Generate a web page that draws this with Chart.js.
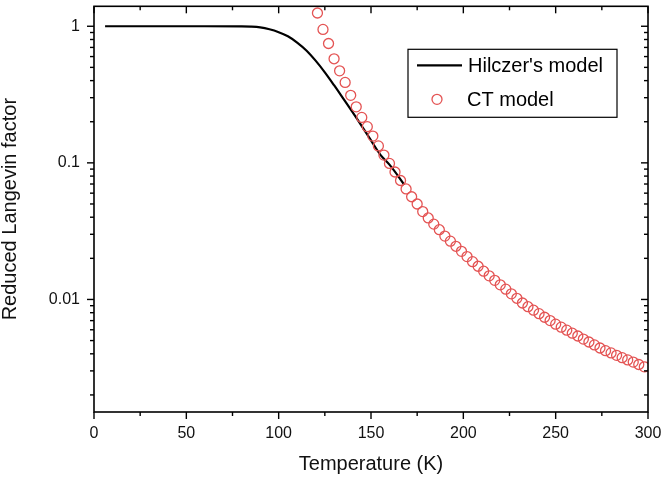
<!DOCTYPE html>
<html>
<head>
<meta charset="utf-8">
<script src="https://cdn.jsdelivr.net/npm/chart.js@4.4.0/dist/chart.umd.min.js"></script>
<style>
  html, body { margin: 0; padding: 0; background: #fff; }
  #wrap { width: 666px; height: 482px; }
</style>
</head>
<body>
<div id="wrap"><canvas id="chart" width="666" height="482"></canvas></div>
<script>
// Hilczer's model (solid black line)
var hilczerT = [6, 20, 40, 60, 80, 85, 90, 95, 100, 105, 110, 115, 120, 125, 130, 135, 140, 145, 150, 155, 160, 165, 168];
var hilczerVal = [1, 1, 1, 1, 0.998, 0.993, 0.98, 0.95, 0.905, 0.845, 0.76, 0.665, 0.56, 0.46, 0.37, 0.295, 0.235, 0.186, 0.146, 0.115, 0.097, 0.079, 0.069];

// CT model (open red circles)
var ctT = [121, 124, 127, 130, 133, 136, 139, 142, 145, 148, 151, 154, 157, 160, 163, 166, 169, 172, 175, 178,
           181, 184, 187, 190, 193, 196, 199, 202, 205, 208, 211, 214, 217, 220, 223, 226, 229, 232, 235, 238,
           241, 244, 247, 250, 253, 256, 259, 262, 265, 268, 271, 274, 277, 280, 283, 286, 289, 292, 295, 298];
var ctVal = [1.25, 0.948, 0.748, 0.578, 0.472, 0.388, 0.312, 0.257, 0.215, 0.184, 0.157, 0.133, 0.114, 0.0991, 0.0857, 0.0743, 0.0644, 0.0565, 0.0500, 0.0440,
             0.0395, 0.0356, 0.0324, 0.0291, 0.0267, 0.0245, 0.0225, 0.0206, 0.0189, 0.0175, 0.0161, 0.0149, 0.0138, 0.0128, 0.0119, 0.0110, 0.0102, 0.00942, 0.00885, 0.00834,
             0.00787, 0.00741, 0.00700, 0.00659, 0.00627, 0.00596, 0.00566, 0.00540, 0.00513, 0.00488, 0.00465, 0.00441, 0.00422, 0.00406, 0.00390, 0.00375, 0.00361, 0.00348, 0.00334, 0.00321];

// axes
var xMin = 0, xMax = 300;
var xMajorTicks = [0, 50, 100, 150, 200, 250, 300];
var xMinorTicks = [25, 75, 125, 175, 225, 275];
var yMin = 0.0015, yMax = 1.4;
var yMajorTicks = [0.01, 0.1, 1];
var yMinorMantissa = [2, 3, 4, 5, 6, 7, 8, 9];
var yDecades = [0.001, 0.01, 0.1];

var FONT = "'Liberation Sans', Arial, sans-serif";

function toPoints(xs, ys) {
    var pts = [];
    for (var i = 0; i < xs.length; i++) pts.push({ x: xs[i], y: ys[i] });
    return pts;
}

// frame box + tick marks on all four sides like the original plot
var frameTicks = {
    id: 'frameTicks',
    afterDraw: function(chart) {
        var ctx = chart.ctx, a = chart.chartArea;
        var xs = chart.scales.x, ys = chart.scales.y;
        var majLen = 7, minLen = 4;
        ctx.save();
        ctx.strokeStyle = '#000';
        ctx.lineWidth = 1.6;
        ctx.strokeRect(a.left, a.top, a.right - a.left, a.bottom - a.top);
        ctx.lineWidth = 1.4;
        function seg(x1, y1, x2, y2) {
            ctx.beginPath(); ctx.moveTo(x1, y1); ctx.lineTo(x2, y2); ctx.stroke();
        }
        function xTick(v, len) {
            var px = xs.getPixelForValue(v);
            seg(px, a.bottom, px, a.bottom + len);
            seg(px, a.top, px, a.top + len);
        }
        function yTick(v, len) {
            var py = ys.getPixelForValue(v);
            seg(a.left - len, py, a.left, py);
            seg(a.right - len, py, a.right, py);
        }
        xMajorTicks.forEach(function(v) { xTick(v, majLen); });
        xMinorTicks.forEach(function(v) { xTick(v, minLen); });
        yMajorTicks.forEach(function(v) { yTick(v, majLen); });
        yDecades.forEach(function(d) {
            yMinorMantissa.forEach(function(m) {
                var v = m * d;
                if (v >= yMin && v <= yMax) yTick(v, minLen);
            });
        });
        ctx.restore();
    }
};

// boxed legend inside the plot, top right
var boxLegend = {
    id: 'boxLegend',
    afterDraw: function(chart) {
        var ctx = chart.ctx, a = chart.chartArea;
        var ds = chart.data.datasets;
        var w = 209, h = 68;
        var left = a.right - 31 - w, top = a.top + 43;
        ctx.save();
        ctx.fillStyle = '#fff';
        ctx.fillRect(left, top, w, h);
        ctx.strokeStyle = '#000';
        ctx.lineWidth = 1.2;
        ctx.strokeRect(left, top, w, h);

        var row1 = top + 16, row2 = top + 50;
        ctx.strokeStyle = ds[0].borderColor;
        ctx.lineWidth = 2.2;
        ctx.beginPath(); ctx.moveTo(left + 9, row1); ctx.lineTo(left + 54, row1); ctx.stroke();

        ctx.strokeStyle = ds[1].borderColor;
        ctx.lineWidth = ds[1].borderWidth;
        ctx.beginPath(); ctx.arc(left + 29, row2, ds[1].pointRadius, 0, Math.PI * 2); ctx.stroke();

        ctx.fillStyle = '#000';
        ctx.font = '20px ' + FONT;
        ctx.textBaseline = 'middle';
        ctx.textAlign = 'left';
        ctx.fillText(ds[0].label, left + 60, row1 + 1);
        ctx.fillText(ds[1].label, left + 59, row2 + 1);
        ctx.restore();
    }
};

var ctx = document.getElementById('chart').getContext('2d');
var chart = new Chart(ctx, {
    type: 'scatter',
    data: {
        datasets: [{
            label: "Hilczer's model",
            data: toPoints(hilczerT, hilczerVal),
            showLine: true,
            borderColor: '#000',
            borderWidth: 2.2,
            pointRadius: 0,
            cubicInterpolationMode: 'monotone',
            order: 2
        }, {
            label: 'CT model',
            data: toPoints(ctT, ctVal),
            showLine: false,
            borderColor: 'rgb(228, 84, 84)',
            backgroundColor: 'rgba(0,0,0,0)',
            borderWidth: 1.3,
            pointRadius: 5,
            pointStyle: 'circle',
            order: 1
        }]
    },
    options: {
        responsive: false,
        animation: false,
        layout: { padding: { top: 4, right: 18, left: 0, bottom: 0 } },
        plugins: {
            legend: { display: false },
            tooltip: { enabled: false }
        },
        scales: {
            x: {
                type: 'linear',
                min: xMin,
                max: xMax,
                afterFit: function(s) { s.height = 70; s.paddingLeft = 0; s.paddingRight = 0; },
                afterBuildTicks: function(s) {
                    s.ticks = xMajorTicks.map(function(v) { return { value: v }; });
                },
                grid: { drawOnChartArea: false, drawTicks: true, tickLength: 7, tickColor: 'rgba(0,0,0,0)' },
                border: { display: false },
                ticks: { color: '#111', font: { family: FONT, size: 16 }, padding: 5, maxRotation: 0 },
                title: {
                    display: true,
                    text: 'Temperature (K)',
                    color: '#111',
                    font: { family: FONT, size: 20, lineHeight: 1 },
                    padding: { top: 0, bottom: 8 }
                }
            },
            y: {
                type: 'logarithmic',
                min: yMin,
                max: yMax,
                afterFit: function(s) { s.width = 94; s.paddingTop = 0; s.paddingBottom = 0; },
                afterBuildTicks: function(s) {
                    s.ticks = yMajorTicks.map(function(v) { return { value: v }; });
                },
                grid: { drawOnChartArea: false, drawTicks: true, tickLength: 7, tickColor: 'rgba(0,0,0,0)' },
                border: { display: false },
                ticks: {
                    color: '#111',
                    font: { family: FONT, size: 16 },
                    padding: 7,
                    callback: function(v) { return String(v); }
                },
                title: {
                    display: true,
                    text: 'Reduced Langevin factor',
                    color: '#111',
                    font: { family: FONT, size: 20, lineHeight: 1 },
                    padding: { top: 0, bottom: 0 }
                }
            }
        }
    },
    plugins: [frameTicks, boxLegend]
});
</script>
</body>
</html>
